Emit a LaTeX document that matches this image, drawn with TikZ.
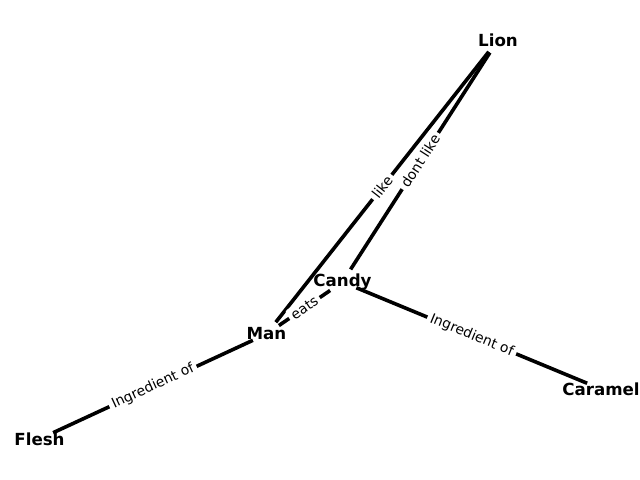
\documentclass[tikz,border=0pt]{standalone}
\usepackage{fontspec}
\setmainfont{DejaVu Sans}
\begin{document}
\begin{tikzpicture}[x=0.72pt,y=-0.72pt,
  lbl/.style={font=\bfseries\fontsize{12}{14}\selectfont, inner sep=0pt},
  edgeline/.style={line width=2.6pt, shorten <=10.8pt, shorten >=10.8pt},
  elbl/.style={font=\fontsize{10}{12}\selectfont, fill=white, rounded corners=2pt, inner sep=2.5pt, sloped, pos=0.5}]
\useasboundingbox (0,0) rectangle (640,480);
% node positions
\coordinate (lionc) at (498,40);
\coordinate (candyc) at (342.5,282);
\coordinate (manc) at (266.5,334);
\coordinate (fleshc) at (39.5,439);
\coordinate (caramelc) at (601,389);
% edges
\draw[edgeline] (manc) -- (lionc);
\draw[edgeline] (candyc) -- (lionc);
\draw[edgeline] (manc) -- (candyc);
\draw[edgeline] (manc) -- (fleshc);
\draw[edgeline] (candyc) -- (caramelc);
% edge labels
\path (manc) -- node[elbl] {like} (lionc);
\path (candyc) -- node[elbl] {dont like} (lionc);
\path (manc) -- node[elbl] {eats} (candyc);
\path (fleshc) -- node[elbl] {Ingredient of} (manc);
\path (candyc) -- node[elbl] {Ingredient of} (caramelc);
% node labels
\node[lbl] (lion) at (lionc) {Lion};
\node[lbl] (candy) at (candyc) {Candy};
\node[lbl] (man) at (manc) {Man};
\node[lbl] (flesh) at (fleshc) {Flesh};
\node[lbl] (caramel) at (caramelc) {Caramel};
\end{tikzpicture}
\end{document}
